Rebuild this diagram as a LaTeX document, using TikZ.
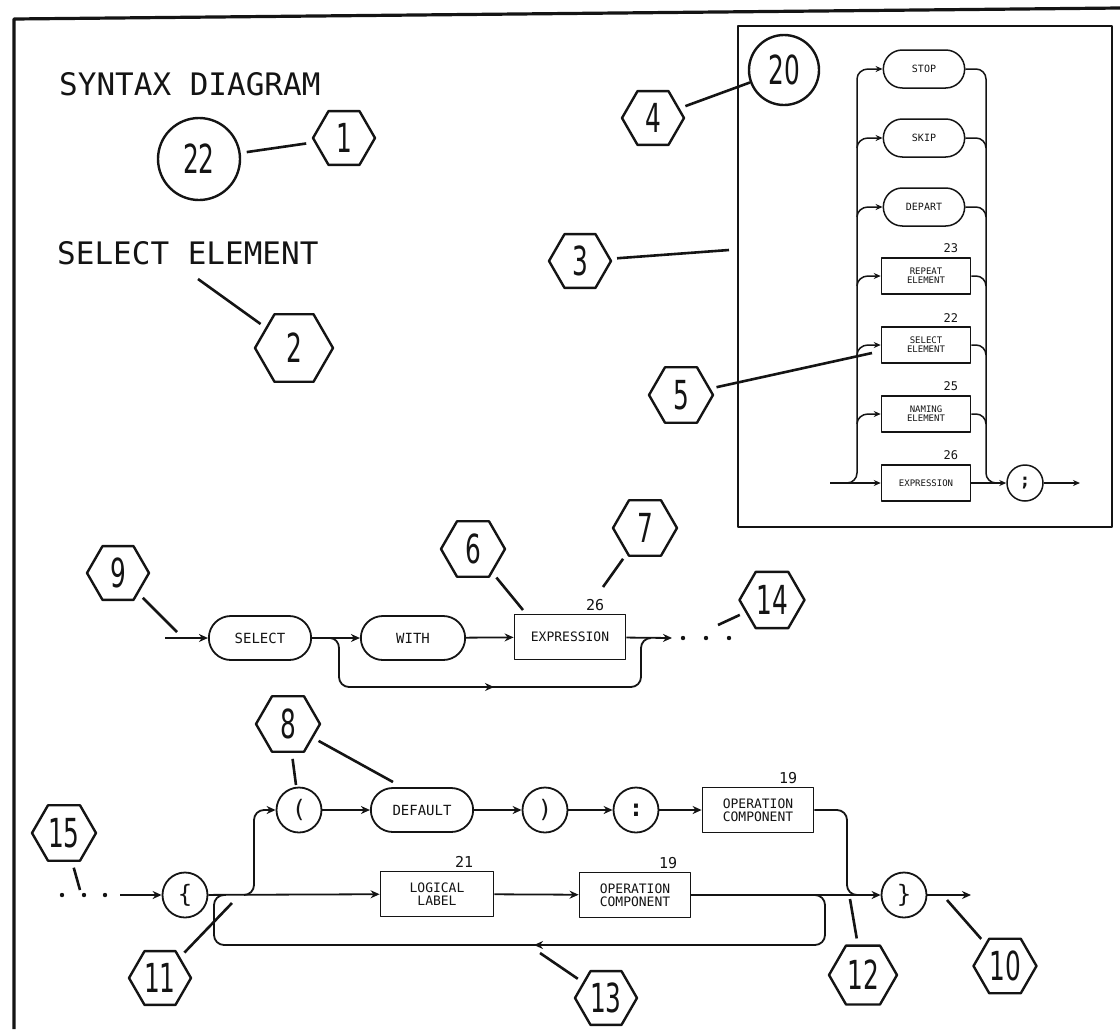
\documentclass[tikz,border=0pt]{standalone}
\usepackage{fontspec}
\usetikzlibrary{arrows.meta,positioning,shapes.geometric,shapes.misc}
\newfontfamily\diafont{DejaVu Sans Mono}
\newfontfamily\numfont[FakeStretch=0.62]{DejaVu Sans}
\definecolor{ink}{gray}{0.08}
\newcommand{\fsz}[1]{\fontsize{#1}{#1}\selectfont}
\begin{document}
\begin{tikzpicture}[
  x=1pt, y=-1pt, line join=round,
  every node/.style={text=ink},
  tag/.style={regular polygon, regular polygon sides=6, draw=ink, line width=2.4pt, minimum size=#1, inner sep=0pt, font=\numfont\fsz{40}},
  tag/.default=62pt,
  ring/.style={circle, draw=ink, line width=2.4pt, minimum size=#1, inner sep=0pt, font=\numfont\fsz{40}},
  lead/.style={draw=ink, line width=2.6pt, shorten <=6pt},
  title/.style={font=\diafont\fsz{31}, inner sep=0pt},
  pill/.style={rounded rectangle, draw=ink, line width=1.8pt, minimum width=109pt, minimum height=44pt, font=\diafont\fsz{14}},
  box/.style={rectangle, draw=ink, line width=1.8pt, minimum width=111pt, minimum height=45pt, align=center, font=\diafont\fsz{13}},
  dot/.style={circle, draw=ink, line width=1.8pt, minimum size=45pt, inner sep=0pt, font=\diafont\fsz{24}},
  ref/.style={font=\diafont\fsz{15}, inner sep=0pt},
  wire/.style={draw=ink, line width=1.8pt},
  arr/.style={wire, -{Stealth[length=9pt,width=8pt]}},
  ipill/.style={rounded rectangle, draw=ink, line width=1.5pt, minimum width=88pt, minimum height=38pt, font=\diafont\fsz{10}},
  ibox/.style={rectangle, draw=ink, line width=1.5pt, minimum width=89pt, minimum height=36pt, align=center, font=\diafont\fsz{9}},
  iref/.style={font=\diafont\fsz{12}, inner sep=0pt},
  iwire/.style={draw=ink, line width=1.5pt},
  iarr/.style={iwire, -{Stealth[length=7pt,width=6pt]}},
]
  \useasboundingbox (0,0) rectangle (1120,1029);
  \draw[ink, line width=3.2pt] (14,1029) -- (14,19) -- (1120,8);

  \node[title, anchor=base west] (title) at (59,95) {SYNTAX DIAGRAM};
  \node[title, anchor=base west] (elname) at (57,264) {SELECT ELEMENT};
  \node[ring=82pt] (c22) at (199,159) {22};
  \node[tag] (t1) at (344,138) {1};
  \node[tag=78pt] (t2) at (294,348) {2};
  \node[tag] (t3) at (580,261) {3};
  \node[tag] (t4) at (653,118) {4};
  \node[tag=64pt] (t5) at (681,395) {5};

  % inset
  \draw[ink, line width=2.4pt] (738,26) rectangle (1112,527);
  \node[ring=70pt] (c20) at (784,70) {20};
  \node[ipill] (stop) at (924,69) {STOP};
  \node[ipill] (skip) at (924,138) {SKIP};
  \node[ipill] (depart) at (924,207) {DEPART};
  \node[ibox] (repeat) at (926,276) {REPEAT\\ELEMENT};
  \node[ibox] (selel) at (926,345) {SELECT\\ELEMENT};
  \node[ibox] (naming) at (926,414) {NAMING\\ELEMENT};
  \node[ibox] (iexpr) at (926,483) {EXPRESSION};
  \node[circle, draw=ink, line width=1.5pt, minimum size=36pt, inner sep=0pt, font=\diafont\bfseries\fsz{18}] (semi) at (1025,483) {;};
  \node[iref, above left=4pt and 13pt of repeat.north east] (n23) {23};
  \node[iref, above left=4pt and 13pt of selel.north east] (n22) {22};
  \node[iref, above left=4pt and 13pt of naming.north east] (n25) {25};
  \node[iref, above left=4pt and 13pt of iexpr.north east] (n26i) {26};
  \coordinate (ientry) at (830,483);
  \coordinate (iexit) at (1080,483);

  \draw[iarr] (ientry) -- (iexpr);
  \draw[iarr] (847,483) to[out=0,in=-90] (857,473) -- (857,79) to[out=90,in=180] (868,69) -- (stop);
  \draw[iwire] (stop) -- (976,69) to[out=0,in=90] (986,79) -- (986,473) to[out=-90,in=180] (996,483);
  \foreach \n/\y in {skip/138,depart/207,repeat/276,selel/345,naming/414}{
    \draw[iarr] (857,\y+10) to[out=90,in=180] (868,\y) -- (\n);
    \draw[iwire] (\n) -- (976,\y) to[out=0,in=90] (986,\y+10);
  }
  \draw[iarr] (iexpr) -- (semi);
  \draw[iarr] (semi) -- (iexit);

  % select row
  \node[tag=64pt] (t6) at (473,549) {6};
  \node[tag=64pt] (t7) at (645,528) {7};
  \node[tag] (t9) at (118,573) {9};
  \node[tag=65pt] (t14) at (772,600) {14};
  \node[pill] (select) at (260,638) {SELECT};
  \node[pill, minimum width=111pt] (with) at (413,638) {WITH};
  \node[box] (expr) at (570,637) {EXPRESSION};
  \node[ref, above left=3pt and 22pt of expr.north east] (n26) {26};
  \coordinate (in9) at (165,638);
  \coordinate (out14) at (672,638);

  \draw[arr] (in9) -- (select);
  \draw[arr] (select) -- (with);
  \draw[arr] (with) -- (expr);
  \draw[arr] (expr) -- (out14);
  \draw[wire] (330,638) to[out=0,in=90] (339,648) -- (339,677) to[out=-90,in=180] (349,687) -- (631,687) to[out=0,in=-90] (641,677) -- (641,648) to[out=90,in=180] (651,638);
  \draw[arr] (470,687) -- (494,687);
  \foreach \x in {683,706,729} \fill[ink] (\x,638) circle (2.2pt);

  % brace row
  \node[tag=64pt] (t8) at (288,724) {8};
  \node[tag=64pt] (t15) at (64,833) {15};
  \node[tag] (t11) at (160,978) {11};
  \node[tag] (t13) at (606,998) {13};
  \node[tag=68pt] (t12) at (863,975) {12};
  \node[tag=63pt] (t10) at (1005,966) {10};
  \node[dot] (lbrace) at (185,895) {\{};
  \node[dot] (lparen) at (299,810) {(};
  \node[pill] (dflt) at (422,810) {DEFAULT};
  \node[dot] (rparen) at (545,810) {)};
  \node[dot] (colon) at (636,810) {\bfseries :};
  \node[box] (opcompt) at (758,810) {OPERATION\\COMPONENT};
  \node[box, minimum width=113pt] (loglab) at (437,894) {LOGICAL\\LABEL};
  \node[box] (opcomp) at (635,895) {OPERATION\\COMPONENT};
  \node[dot] (rbrace) at (904,895) {\}};
  \node[ref, above left=3pt and 17pt of opcompt.north east] (n19t) {19};
  \node[ref, above left=3pt and 21pt of loglab.north east] (n21) {21};
  \node[ref, above left=3pt and 14pt of opcomp.north east] (n19) {19};
  \coordinate (in15) at (120,895);
  \coordinate (out10) at (971,895);

  \foreach \x in {62,84,105} \fill[ink] (\x,895) circle (2.2pt);
  \draw[arr] (in15) -- (lbrace);
  \draw[arr] (lbrace) -- (loglab);
  \draw[arr] (244,895) to[out=0,in=-90] (254,885) -- (254,820) to[out=90,in=180] (264,810) -- (lparen);
  \draw[arr] (lparen) -- (dflt);
  \draw[arr] (dflt) -- (rparen);
  \draw[arr] (rparen) -- (colon);
  \draw[arr] (colon) -- (opcompt);
  \draw[wire] (opcompt) -- (837,810) to[out=0,in=90] (847,820) -- (847,885) to[out=-90,in=180] (857,895);
  \draw[arr] (loglab) -- (opcomp);
  \draw[arr] (opcomp) -- (rbrace);
  \draw[arr] (rbrace) -- (out10);
  \draw[wire] (815,895) to[out=0,in=90] (825,905) -- (825,935) to[out=-90,in=0] (815,945) -- (224,945) to[out=180,in=-90] (214,935) -- (214,905) to[out=90,in=180] (224,895);
  \draw[arr] (560,945) -- (534,945);

  % leaders
  \coordinate (p2) at (198,279);
  \coordinate (p3) at (729,250);
  \coordinate (p5) at (872,353);
  \coordinate (p6) at (523,610);
  \coordinate (p7) at (603,587);
  \coordinate (p9) at (177,632);
  \coordinate (p14) at (718,625);
  \coordinate (p8a) at (296,785);
  \coordinate (p8b) at (393,782);
  \coordinate (p15) at (80,890);
  \coordinate (p11) at (232,903);
  \coordinate (p13) at (540,953);
  \coordinate (p12) at (850,899);
  \coordinate (p10) at (947,900);
  \draw[lead, shorten >=8pt] (c22) -- (t1);
  \draw[lead] (t2) -- (p2);
  \draw[lead] (t3) -- (p3);
  \draw[lead] (t4) -- (c20);
  \draw[lead] (t5) -- (p5);
  \draw[lead] (t6) -- (p6);
  \draw[lead] (t7) -- (p7);
  \draw[lead] (t9) -- (p9);
  \draw[lead] (t14) -- (p14);
  \draw[lead] (t8) -- (p8a);
  \draw[lead] (t8) -- (p8b);
  \draw[lead] (t15) -- (p15);
  \draw[lead] (t11) -- (p11);
  \draw[lead] (t13) -- (p13);
  \draw[lead] (t12) -- (p12);
  \draw[lead] (t10) -- (p10);
\end{tikzpicture}
\end{document}
